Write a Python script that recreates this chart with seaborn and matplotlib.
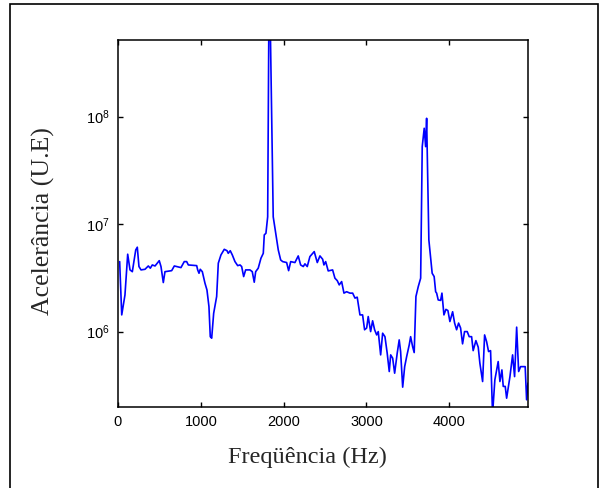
import numpy as np
import pandas as pd
import matplotlib
matplotlib.use("Agg")
import matplotlib.pyplot as plt
from matplotlib.patches import Rectangle
from matplotlib.ticker import NullLocator
import seaborn as sns

# Espectro (frequencia em Hz, aceleracao em U.E)
freq_hz = [20, 45, 84, 117, 145, 173, 214, 233, 253, 278, 326, 366, 390, 414, 447,
           479, 498, 519, 547, 567, 648, 680, 760, 800, 829, 849, 950, 962, 978, 993,
           1018, 1050, 1074, 1098, 1114, 1131, 1155, 1191, 1211, 1243, 1283, 1316, 1331,
           1355, 1380, 1412, 1445, 1473, 1493, 1517, 1541, 1593, 1621, 1645, 1662, 1693,
           1726, 1754, 1766, 1786, 1807, 1826, 1874, 1935, 1964, 1988, 2036, 2060, 2085,
           2136, 2176, 2205, 2237, 2257, 2285, 2317, 2350, 2369, 2406, 2438, 2471, 2486,
           2507, 2538, 2591, 2619, 2647, 2671, 2700, 2728, 2760, 2800, 2833, 2861, 2888,
           2921, 2953, 2977, 3002, 3021, 3050, 3074, 3098, 3123, 3142, 3171, 3195, 3223,
           3250, 3275, 3292, 3316, 3340, 3371, 3395, 3412, 3437, 3461, 3485, 3516, 3533,
           3557, 3576, 3597, 3625, 3654, 3673, 3697, 3714, 3726, 3753, 3793, 3817, 3835,
           3847, 3866, 3895, 3911, 3935, 3959, 3983, 4007, 4040, 4064, 4088, 4112, 4136,
           4160, 4184, 4216, 4240, 4269, 4288, 4321, 4349, 4369, 4402, 4426, 4450, 4474,
           4498, 4522, 4550, 4590, 4611, 4635, 4651, 4675, 4692, 4732, 4764, 4788, 4813,
           4837, 4861, 4916, 4933, 4949]

aceleracao = [4.48e6, 1.43e6, 2.19e6, 5.25e6, 3.75e6, 3.61e6, 5.75e6, 6.1e6, 4.03e6, 3.75e6,
              3.8e6, 4.08e6, 3.89e6, 4.17e6, 4.08e6, 4.39e6, 4.57e6, 4.03e6, 2.86e6, 3.61e6,
              3.69e6, 4.08e6, 3.94e6, 4.48e6, 4.48e6, 4.17e6, 4.11e6, 3.75e6, 3.49e6, 3.8e6,
              3.61e6, 2.82e6, 2.44e6, 1.71e6, 8.97e5, 8.68e5, 1.48e6, 2.12e6, 4.33e6, 5.17e6,
              5.83e6, 5.66e6, 5.35e6, 5.66e6, 5.17e6, 4.48e6, 4.11e6, 4.17e6, 4.03e6, 3.25e6,
              3.75e6, 3.75e6, 3.61e6, 2.88e6, 3.61e6, 3.89e6, 4.82e6, 5.35e6, 7.94e6, 8.22e6,
              1.17e7, 3.0e9, 1.17e7, 5.75e6, 4.64e6, 4.48e6, 4.39e6, 3.69e6, 4.48e6, 4.39e6,
              5.06e6, 4.17e6, 4.03e6, 4.27e6, 4.03e6, 4.99e6, 5.35e6, 5.55e6, 4.39e6, 5.06e6,
              4.71e6, 4.17e6, 4.48e6, 3.67e6, 3.75e6, 3.14e6, 2.98e6, 2.72e6, 2.92e6, 2.28e6,
              2.35e6, 2.28e6, 2.28e6, 2.05e6, 2.09e6, 1.43e6, 1.43e6, 1.04e6, 1.08e6, 1.38e6,
              1.0e6, 1.26e6, 1.04e6, 9.31e5, 1.0e6, 6.07e5, 9.66e5, 8.97e5, 6.3e5, 4.25e5,
              6.07e5, 5.66e5, 4.1e5, 6.3e5, 8.37e5, 6.52e5, 3.04e5, 4.72e5, 5.85e5, 7.52e5,
              8.97e5, 7.24e5, 6.38e5, 2.12e6, 2.62e6, 3.14e6, 5.26e7, 7.8e7, 5.26e7, 9.66e7,
              7.13e6, 3.49e6, 3.25e6, 2.35e6, 2.28e6, 1.97e6, 1.95e6, 2.28e6, 1.43e6, 1.61e6,
              1.57e6, 1.24e6, 1.53e6, 1.2e6, 1.04e6, 1.2e6, 1.08e6, 7.69e5, 1.0e6, 1.0e6,
              8.97e5, 8.97e5, 6.65e5, 8.24e5, 7.16e5, 5.08e5, 3.43e5, 9.31e5, 8.07e5, 6.52e5,
              6.65e5, 1.7e5, 3.56e5, 5.26e5, 3.43e5, 4.4e5, 3.09e5, 3.09e5, 2.4e5, 3.81e5,
              6.07e5, 3.81e5, 1.1e6, 4.25e5, 4.72e5, 4.72e5, 2.32e5, 3.31e5]

x_ticks = [0, 1000, 2000, 3000, 4000]
y_ticks = [1e6, 1e7, 1e8]
y_tick_labels = [r"$\mathregular{10^{6}}$", r"$\mathregular{10^{7}}$", r"$\mathregular{10^{8}}$"]

sns.set_style("ticks")
plt.rcParams["font.family"] = ["Liberation Sans", "DejaVu Sans"]

df = pd.DataFrame({"freq": freq_hz, "acel": aceleracao})

fig = plt.figure(figsize=(6.03, 4.88), dpi=100)
ax = fig.add_axes([118 / 603, 1 - 406.7 / 488, 410 / 603, 366.7 / 488])

sns.lineplot(data=df, x="freq", y="acel", color="#0000ff", lw=1.2, ax=ax)

ax.set_yscale("log")
ax.set_xlim(0, 4950)
ax.set_ylim(2.0e5, 5.17e8)
ax.set_xticks(x_ticks)
ax.set_xticklabels([str(t) for t in x_ticks])
ax.set_yticks(y_ticks)
ax.set_yticklabels(y_tick_labels)
ax.yaxis.set_minor_locator(NullLocator())
ax.tick_params(direction="in", length=3.5, width=1, top=True, right=True,
               labelsize=10.5, colors="black", pad=6)

for side in ["left", "right", "top", "bottom"]:
    ax.spines[side].set_visible(True)
    ax.spines[side].set_linewidth(1.1)
    ax.spines[side].set_color("black")

ax.set_xlabel("Freqüência (Hz)", fontsize=17.5, family="Liberation Serif")
ax.set_ylabel("Acelerância (U.E)", fontsize=18.5, family="Liberation Serif")
ax.xaxis.set_label_coords(0.461, -0.11)
ax.yaxis.set_label_coords(-0.154, 0.505)

# moldura em volta da figura
fig.patches.append(Rectangle((9.5 / 603, -0.1), (598 - 9.5) / 603, 1.1 - 4.5 / 488,
                             transform=fig.transFigure, fill=False, ec="black",
                             lw=1.2, clip_on=False))

fig.savefig("out.png", dpi=100)
